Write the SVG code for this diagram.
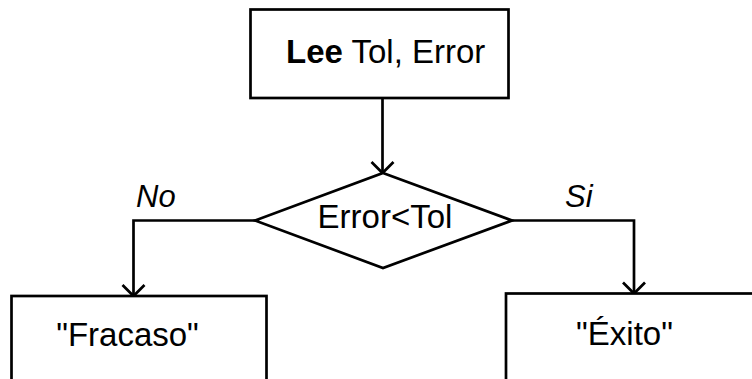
<svg xmlns="http://www.w3.org/2000/svg" width="752" height="379" viewBox="0 0 752 379">
<style>
.box{fill:#fff;stroke:#000;stroke-width:2.7}
.ln{fill:none;stroke:#000;stroke-width:2.7}
.t{font-family:"Liberation Sans",Arial,sans-serif;font-size:33px;fill:#000}
.lbl{font-family:"Liberation Sans",Arial,sans-serif;font-size:31px;font-style:italic;fill:#000}
</style>
<defs>
<marker id="arr" markerUnits="userSpaceOnUse" markerWidth="30" markerHeight="30" refX="15" refY="15" orient="auto" overflow="visible">
<path d="M4,4 L15,15 L4,26" fill="none" stroke="#000" stroke-width="2.7"/>
</marker>
</defs>
<rect width="752" height="379" fill="#fff"/>
<g id="connectors">
<path class="ln" d="M382.5,98 L382.5,173" marker-end="url(#arr)"/>
<path class="ln" d="M255,220.5 L133.5,220.5 L133.5,296" marker-end="url(#arr)"/>
<path class="ln" d="M512,220.5 L634,220.5 L634,293.5" marker-end="url(#arr)"/>
<text class="lbl" x="136" y="207">No</text>
<text class="lbl" x="565" y="207">Si</text>
</g>
<g id="node-lee">
<rect class="box" x="250.5" y="9.5" width="258" height="88.5"/>
<text class="t" x="286" y="63" font-size="31"><tspan font-weight="bold">Lee</tspan> Tol, Error</text>
</g>
<g id="node-decision">
<polygon class="box" points="383,173 512,220.5 383,268 255,220.5"/>
<text class="t" x="385" y="228" text-anchor="middle" font-size="32">Error&lt;Tol</text>
</g>
<g id="node-fracaso">
<rect class="box" x="11.5" y="296" width="255" height="100"/>
<text class="t" x="127.5" y="345.5" text-anchor="middle">"Fracaso"</text>
</g>
<g id="node-exito">
<rect class="box" x="506" y="293.5" width="260" height="100"/>
<text class="t" x="624.5" y="345" text-anchor="middle">"Éxito"</text>
</g>
</svg>
